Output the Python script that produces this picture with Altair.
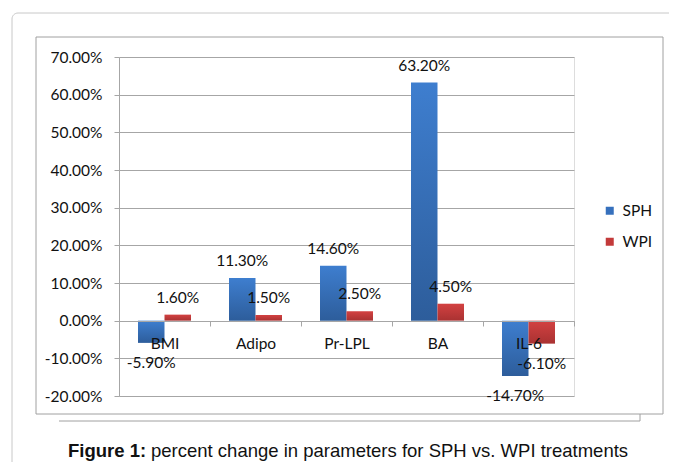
import altair as alt
import pandas as pd

categories = ["BMI", "Adipo", "Pr-LPL", "BA", "IL-6"]
series = ["SPH", "WPI"]
sph_values = [-0.059, 0.113, 0.146, 0.632, -0.147]
wpi_values = [0.016, 0.015, 0.025, 0.045, -0.061]
y_ticks = [-0.2, -0.1, 0.0, 0.1, 0.2, 0.3, 0.4, 0.5, 0.6, 0.7]
caption_bold = "Figure 1:"
caption_rest = "percent change in parameters for SPH vs. WPI treatments"

rows = []
for i, cat in enumerate(categories):
    for s, vals in zip(series, [sph_values, wpi_values]):
        v = vals[i]
        rows.append({"category": cat, "series": s, "value": v,
                     "label": f"{v * 100:.2f}%"})
df = pd.DataFrame(rows)

FONT = "Lato"
GRID = "#a6a6a6"
TXT = "#111111"

def grad(top, bottom):
    return {"gradient": "linear", "x1": 0, "y1": 0, "x2": 0, "y2": 1,
            "stops": [{"offset": 0, "color": top}, {"offset": 1, "color": bottom}]}

SPH_GRAD = grad("#3e7ecf", "#2d5d9b")
WPI_GRAD = grad("#d34141", "#a93232")

x_enc = alt.X(
    "category:N", sort=categories,
    scale=alt.Scale(paddingInner=0, paddingOuter=0),
    axis=alt.Axis(title=None, offset=-75, tickBand="extent", grid=False,
                  domainColor=GRID, tickColor=GRID, tickSize=5,
                  labelPadding=10, labelFont=FONT, labelFontSize=15.5,
                  labelColor=TXT, labelAngle=0, zindex=1),
)
xo_enc = alt.XOffset("series:N", sort=series,
                     scale=alt.Scale(paddingInner=0, paddingOuter=0.717))
y_enc = alt.Y(
    "value:Q", stack=None,
    scale=alt.Scale(domain=[-0.2, 0.7], nice=False),
    axis=alt.Axis(title=None, values=y_ticks, labelOverlap=False,
                  labelExpr="(datum.value < -0.0001 ? '-' : '') + format(abs(datum.value), '.2%')",
                  grid=True, gridColor=GRID, domainColor=GRID, tickColor=GRID,
                  tickSize=5, labelPadding=12, labelFont=FONT,
                  labelFontSize=15.5, labelColor=TXT),
)

base = alt.Chart(df)

bars = base.mark_bar().encode(
    x=x_enc, xOffset=xo_enc, y=y_enc,
    color=alt.condition("datum.series == 'SPH'", alt.value(SPH_GRAD), alt.value(WPI_GRAD)),
)

legend_layer = base.transform_filter("false").mark_square(opacity=1).encode(
    color=alt.Color("series:N", sort=series,
                    scale=alt.Scale(domain=series, range=["#3670bd", "#c33a3a"]),
                    legend=alt.Legend(title=None, orient="none", legendX=483,
                                      legendY=146, symbolType="square",
                                      symbolSize=64, labelFont=FONT,
                                      labelFontSize=15.5, labelColor=TXT,
                                      rowPadding=14, labelOffset=5, padding=0,
                                      symbolStrokeWidth=0, symbolOpacity=1)),
)

pos_labels = base.transform_filter("datum.value >= 0").mark_text(
    dy=-17, font=FONT, fontSize=15.5, color=TXT, baseline="middle", align="center"
).encode(x=x_enc, xOffset=xo_enc, y=y_enc, text="label:N")

neg_labels = base.transform_filter("datum.value < 0").mark_text(
    dy=20, font=FONT, fontSize=15.5, color=TXT, baseline="middle", align="center"
).encode(x=x_enc, xOffset=xo_enc, y=y_enc, text="label:N")

one = pd.DataFrame({"t": [caption_bold], "u": [caption_rest]})

outer_frame = alt.Chart(one).mark_rect(
    fillOpacity=0, stroke="#c8c8c8", strokeWidth=1, cornerRadius=6
).encode(x=alt.value(-107), x2=alt.value(620), y=alt.value(-44), y2=alt.value(520))

inner_frame = alt.Chart(one).mark_rect(
    fillOpacity=0, stroke="#a0a0a0", strokeWidth=1
).encode(x=alt.value(-83), x2=alt.value(544), y=alt.value(-20), y2=alt.value(357))

shadow_bottom = alt.Chart(one).mark_rule(color="#a0a0a0", strokeWidth=1).encode(
    x=alt.value(-60), x2=alt.value(521), y=alt.value(364))
shadow_side = alt.Chart(one).mark_rule(color="#a0a0a0", strokeWidth=1).encode(
    x=alt.value(521), y=alt.value(357), y2=alt.value(364))

cap1 = alt.Chart(one).mark_text(
    font="Liberation Sans", fontSize=18.5, fontWeight="bold", color="#111",
    align="left", baseline="alphabetic"
).encode(x=alt.value(-51), y=alt.value(400), text="t:N")

cap2 = alt.Chart(one).mark_text(
    font="Liberation Sans", fontSize=18.5, color="#111",
    align="left", baseline="alphabetic"
).encode(x=alt.value(32), y=alt.value(400), text="u:N")

chart = alt.layer(
    outer_frame, inner_frame, shadow_bottom, shadow_side,
    bars, legend_layer, pos_labels, neg_labels, cap1, cap2
).properties(
    width=455, height=339,
    autosize="none",
    padding={"left": 111, "top": 49, "right": 95, "bottom": 66},
).configure_view(stroke=None).configure(background="white")

chart.save("out.html", embed_options={"renderer": "svg", "actions": False})
